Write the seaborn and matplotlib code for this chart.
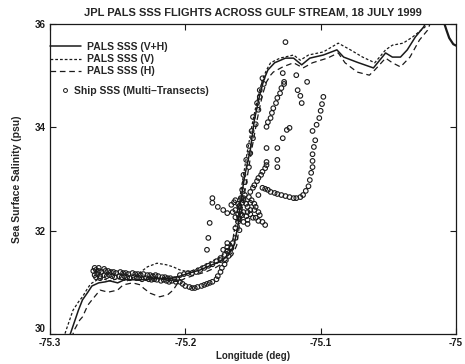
import numpy as np
import pandas as pd
import matplotlib
matplotlib.use("Agg")
import matplotlib.pyplot as plt
import seaborn as sns
from matplotlib.lines import Line2D

# PALS SSS (V+H)
vh_lon = [-75.287, -75.285, -75.279, -75.276, -75.272, -75.269, -75.264, -75.259, -75.256, -75.250,
          -75.245, -75.233, -75.222, -75.211, -75.204, -75.197, -75.189, -75.182, -75.174, -75.168,
          -75.164, -75.161, -75.159, -75.156, -75.152, -75.149, -75.145, -75.142, -75.139, -75.134,
          -75.126, -75.120, -75.114, -75.108, -75.098, -75.088, -75.083, -75.073, -75.061, -75.052,
          -75.047, -75.041, -75.036, -75.030, -75.024, -75.021]
vh_sal = [29.92, 30.00, 30.46, 30.66, 30.81, 30.93, 30.99, 31.01, 31.03, 30.99,
          31.05, 31.05, 31.07, 31.08, 31.12, 31.18, 31.24, 31.32, 31.41, 31.53,
          31.72, 32.11, 32.59, 33.08, 33.56, 34.14, 34.63, 34.92, 35.11, 35.25,
          35.34, 35.34, 35.21, 35.34, 35.40, 35.50, 35.36, 35.26, 35.15, 35.44,
          35.36, 35.36, 35.50, 35.75, 35.94, 36.08]
vh_tail_lon = [-75.009, -75.007, -75.005, -75.002, -74.999]
vh_tail_sal = [36.04, 35.88, 35.73, 35.61, 35.57]

# PALS SSS (V)
v_lon = [-75.290, -75.288, -75.283, -75.279, -75.276, -75.273, -75.270, -75.265, -75.261, -75.256,
         -75.250, -75.243, -75.237, -75.233, -75.228, -75.221, -75.214, -75.209, -75.204, -75.197,
         -75.189, -75.182, -75.174, -75.168, -75.165, -75.163, -75.160, -75.157, -75.154, -75.150,
         -75.146, -75.143, -75.140, -75.137, -75.130, -75.120, -75.115, -75.109, -75.098, -75.087,
         -75.078, -75.069, -75.060, -75.052, -75.047, -75.039, -75.032, -75.023, -75.019]
v_sal = [29.92, 30.08, 30.46, 30.62, 30.72, 30.85, 30.97, 31.05, 31.07, 31.03,
         31.07, 31.03, 31.12, 31.20, 31.30, 31.37, 31.34, 31.30, 31.24, 31.20,
         31.30, 31.39, 31.49, 31.63, 31.82, 32.11, 32.59, 33.08, 33.56, 34.14,
         34.63, 34.92, 35.11, 35.25, 35.34, 35.40, 35.30, 35.40, 35.46, 35.63,
         35.50, 35.36, 35.25, 35.50, 35.59, 35.63, 35.75, 35.94, 36.08]

# PALS SSS (H)
h_lon = [-75.284, -75.282, -75.278, -75.276, -75.272, -75.269, -75.263, -75.257, -75.250, -75.246,
         -75.239, -75.233, -75.231, -75.226, -75.219, -75.213, -75.209, -75.205, -75.200, -75.193,
         -75.185, -75.178, -75.171, -75.165, -75.162, -75.160, -75.157, -75.154, -75.151, -75.147,
         -75.143, -75.140, -75.137, -75.135, -75.128, -75.120, -75.113, -75.106, -75.095, -75.087,
         -75.082, -75.073, -75.064, -75.060, -75.052, -75.047, -75.041, -75.034, -75.027, -75.021,
         -75.018]
h_sal = [29.92, 30.08, 30.27, 30.33, 30.56, 30.66, 30.85, 30.81, 30.85, 30.95,
         30.99, 30.95, 30.89, 30.79, 30.72, 30.76, 30.85, 31.01, 31.08, 31.14,
         31.20, 31.28, 31.39, 31.53, 31.72, 32.11, 32.59, 33.08, 33.56, 34.14,
         34.63, 34.88, 35.01, 35.07, 35.17, 35.25, 35.15, 35.25, 35.34, 35.44,
         35.25, 35.07, 35.01, 35.11, 35.34, 35.25, 35.17, 35.36, 35.69, 35.88,
         36.08]

# Ship SSS, transect by transect
ship_band_a_lon = [-75.268, -75.266, -75.264, -75.262, -75.259, -75.257, -75.255, -75.253, -75.251, -75.248,
                   -75.246, -75.244, -75.242, -75.239, -75.237, -75.235, -75.233, -75.231, -75.228, -75.226,
                   -75.224, -75.222, -75.220, -75.217, -75.215, -75.213, -75.211, -75.208, -75.206]
ship_band_a_sal = [31.22, 31.24, 31.22, 31.20, 31.22, 31.22, 31.20, 31.20, 31.18, 31.20,
                   31.18, 31.18, 31.16, 31.18, 31.16, 31.16, 31.14, 31.16, 31.14, 31.14,
                   31.12, 31.14, 31.12, 31.10, 31.10, 31.08, 31.08, 31.06, 31.06]
ship_band_b_lon = [-75.267, -75.265, -75.263, -75.260, -75.258, -75.256, -75.254, -75.252, -75.249, -75.247,
                   -75.245, -75.243, -75.241, -75.238, -75.236, -75.234, -75.232, -75.229, -75.227, -75.225,
                   -75.223, -75.221, -75.218, -75.216, -75.214, -75.212, -75.210, -75.207]
ship_band_b_sal = [31.14, 31.16, 31.12, 31.14, 31.12, 31.14, 31.12, 31.10, 31.12, 31.10,
                   31.12, 31.10, 31.08, 31.10, 31.08, 31.08, 31.06, 31.08, 31.06, 31.05,
                   31.06, 31.05, 31.03, 31.05, 31.03, 31.01, 31.03, 31.01]
ship_edge_lon = [-75.267, -75.264, -75.260, -75.266, -75.263]
ship_edge_sal = [31.28, 31.28, 31.26, 31.10, 31.08]
ship_low_lon = [-75.204, -75.202, -75.200, -75.197, -75.195, -75.193, -75.191, -75.188, -75.186, -75.184,
                -75.182, -75.180, -75.177, -75.176, -75.174, -75.173, -75.171, -75.170, -75.168, -75.167,
                -75.166]
ship_low_sal = [31.01, 30.97, 30.93, 30.91, 30.89, 30.89, 30.91, 30.93, 30.95, 30.97,
                30.99, 31.01, 31.06, 31.12, 31.20, 31.28, 31.35, 31.43, 31.51, 31.59,
                31.66]
ship_up_lon = [-75.204, -75.201, -75.198, -75.195, -75.192, -75.189, -75.186, -75.183, -75.180, -75.177,
               -75.174, -75.171, -75.169, -75.166, -75.165]
ship_up_sal = [31.14, 31.16, 31.18, 31.18, 31.20, 31.24, 31.28, 31.32, 31.35, 31.41,
               31.47, 31.53, 31.61, 31.68, 31.76]
ship_front_lon = [-75.160, -75.161, -75.159, -75.160, -75.157, -75.158, -75.156, -75.157, -75.153, -75.155,
                  -75.152, -75.153, -75.150, -75.151, -75.148, -75.150, -75.146, -75.147, -75.145, -75.145,
                  -75.142, -75.143]
ship_front_sal = [32.01, 32.17, 32.32, 32.48, 32.63, 32.79, 32.94, 33.08, 33.23, 33.37,
                  33.50, 33.64, 33.79, 33.93, 34.06, 34.20, 34.34, 34.47, 34.59, 34.72,
                  34.84, 34.95]
ship_c2_lon = [-75.152, -75.150, -75.149, -75.147, -75.146, -75.144, -75.143, -75.141, -75.140]
ship_c2_sal = [32.75, 32.83, 32.88, 32.96, 33.02, 33.08, 33.14, 33.21, 33.27]
ship_b_lon = [-75.140, -75.139, -75.137, -75.136, -75.135, -75.133, -75.132, -75.130, -75.129, -75.127]
ship_b_sal = [34.01, 34.10, 34.18, 34.28, 34.37, 34.47, 34.57, 34.66, 34.76, 34.84]
ship_mid_lon = [-75.140, -75.140, -75.132, -75.132, -75.132, -75.128, -75.125, -75.123]
ship_mid_sal = [33.60, 33.33, 33.60, 33.37, 33.23, 33.79, 33.95, 33.99]
ship_top_lon = [-75.126, -75.128, -75.127, -75.117, -75.115, -75.114, -75.110, -75.118]
ship_top_sal = [35.65, 35.05, 34.88, 34.72, 34.61, 34.47, 34.88, 35.01]
ship_right_lon = [-75.098, -75.099, -75.100, -75.101, -75.103, -75.106, -75.104, -75.105, -75.106, -75.106,
                  -75.106, -75.107, -75.108, -75.109, -75.111]
ship_right_sal = [34.59, 34.45, 34.32, 34.18, 34.05, 33.93, 33.75, 33.62, 33.48, 33.35,
                  33.23, 33.12, 32.98, 32.86, 32.77]
ship_east_lon = [-75.146, -75.143, -75.141, -75.139, -75.137, -75.134, -75.132, -75.129, -75.126, -75.123,
                 -75.120, -75.118, -75.115, -75.113]
ship_east_sal = [32.69, 32.83, 32.81, 32.79, 32.75, 32.73, 32.71, 32.69, 32.67, 32.65,
                 32.63, 32.63, 32.65, 32.69]
ship_west_lon = [-75.180, -75.180, -75.176, -75.172, -75.169, -75.182, -75.183, -75.184, -75.172, -75.169,
                 -75.174]
ship_west_sal = [32.63, 32.54, 32.46, 32.40, 32.34, 32.15, 31.86, 31.63, 31.63, 31.76,
                 31.43]
ship_below_lon = [-75.154, -75.150, -75.143, -75.141, -75.163, -75.163, -75.169]
ship_below_sal = [32.21, 32.25, 32.17, 32.11, 32.05, 31.86, 31.68]
ship_cluster_lon = [-75.166, -75.164, -75.163, -75.161, -75.160, -75.158, -75.157, -75.155, -75.154, -75.152,
                    -75.151, -75.149, -75.163, -75.161, -75.160, -75.158, -75.157, -75.155, -75.154, -75.152,
                    -75.165, -75.163, -75.160, -75.157, -75.154, -75.152, -75.149, -75.148, -75.146, -75.159,
                    -75.156, -75.153, -75.148, -75.146, -75.145]
ship_cluster_sal = [32.50, 32.55, 32.59, 32.52, 32.46, 32.54, 32.59, 32.52, 32.46, 32.54,
                    32.59, 32.52, 32.40, 32.32, 32.38, 32.30, 32.36, 32.28, 32.36, 32.40,
                    32.36, 32.26, 32.22, 32.17, 32.13, 32.32, 32.40, 32.46, 32.36, 32.63,
                    32.69, 32.65, 32.25, 32.19, 32.30]

transects = [
    (ship_band_a_lon, ship_band_a_sal), (ship_band_b_lon, ship_band_b_sal),
    (ship_edge_lon, ship_edge_sal), (ship_low_lon, ship_low_sal),
    (ship_up_lon, ship_up_sal), (ship_front_lon, ship_front_sal),
    (ship_c2_lon, ship_c2_sal), (ship_b_lon, ship_b_sal),
    (ship_mid_lon, ship_mid_sal), (ship_top_lon, ship_top_sal),
    (ship_right_lon, ship_right_sal), (ship_east_lon, ship_east_sal),
    (ship_west_lon, ship_west_sal), (ship_below_lon, ship_below_sal),
    (ship_cluster_lon, ship_cluster_sal),
]
ship = pd.concat([pd.DataFrame({"lon": lo, "sal": sa}) for lo, sa in transects],
                 ignore_index=True)

sns.set_theme(style="ticks")
plt.rcParams["font.family"] = ["Liberation Sans", "DejaVu Sans"]
plt.rcParams["font.weight"] = "bold"

fig = plt.figure(figsize=(4.65, 3.64), dpi=100)
ax = fig.add_axes([0.1075, 0.0824, 0.8731, 0.8516])

V_DASH = (0, (2.2, 1.6))
H_DASH = (0, (4.5, 3.0))

sns.scatterplot(data=ship, x="lon", y="sal", marker="o", s=11, color="k",
                facecolor="none", edgecolor="k", linewidth=0.8, ax=ax, zorder=2)
sns.lineplot(x=vh_lon, y=vh_sal, sort=False, estimator=None, color="k", lw=1.1, ax=ax)
sns.lineplot(x=vh_tail_lon, y=vh_tail_sal, sort=False, estimator=None, color="k", lw=1.6, ax=ax)
sns.lineplot(x=v_lon, y=v_sal, sort=False, estimator=None, color="k", lw=0.9,
             linestyle=V_DASH, ax=ax)
sns.lineplot(x=h_lon, y=h_sal, sort=False, estimator=None, color="k", lw=0.9,
             linestyle=H_DASH, ax=ax)

ax.set_xlim(-75.3, -75.0)
ax.set_ylim(30, 36)
ax.set_xticks([-75.3, -75.2, -75.1, -75.0], ["-75.3", "-75.2", "-75.1", "-75"])
ax.set_yticks([30, 32, 34, 36], ["30", "32", "34", "36"])
ax.tick_params(direction="in", length=4, width=0.8, top=True, right=True,
               labelsize=7, colors="k")
ax.tick_params(axis="x", pad=3)
ax.tick_params(axis="y", pad=3)
# the lowest y label sits a little high, clear of "-75.3"
ax.get_yticklabels()[0].set_verticalalignment("bottom")
for sp in ax.spines.values():
    sp.set_linewidth(0.9)
    sp.set_color("k")

ax.set_title("JPL PALS SSS FLIGHTS ACROSS GULF STREAM, 18 JULY 1999",
             fontsize=8, fontweight="bold", pad=6)
ax.set_xlabel("Longitude (deg)", fontsize=7, fontweight="bold", labelpad=2)
ax.set_ylabel("Sea Surface Salinity (psu)", fontsize=7.5, fontweight="bold", labelpad=9)

line_handles = [
    Line2D([], [], color="k", lw=1.1),
    Line2D([], [], color="k", lw=0.9, linestyle=V_DASH),
    Line2D([], [], color="k", lw=0.9, linestyle=H_DASH),
]
leg1 = ax.legend(line_handles, ["PALS SSS (V+H)", "PALS SSS (V)", "PALS SSS (H)"],
                 loc="upper left", bbox_to_anchor=(-0.01, 0.955), frameon=False,
                 fontsize=7.5, handlelength=3.0, handletextpad=0.5, labelspacing=0.2,
                 borderaxespad=0)
ax.add_artist(leg1)
ship_handle = Line2D([], [], marker="o", ls="none", mfc="none", mec="k", ms=2.8, mew=0.7)
ax.legend([ship_handle], ["Ship SSS (Multi\u2013Transects)"], loc="upper left",
          bbox_to_anchor=(0.015, 0.815), frameon=False, fontsize=7.5, handlelength=1.0,
          handletextpad=0.3, borderaxespad=0)

fig.savefig("out.png", dpi=100, facecolor="white")
